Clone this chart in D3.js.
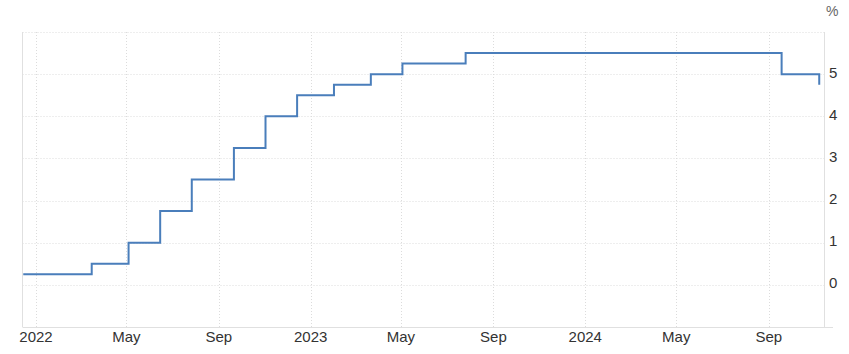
<!DOCTYPE html>
<html><head><meta charset="utf-8">
<script src="https://cdn.jsdelivr.net/npm/d3@7"></script>
<style>body{margin:0;background:#fff}svg{display:block;font-family:"Liberation Sans",Arial,sans-serif}</style>
</head><body><svg id="c" width="849" height="354"></svg>
<script>
const dates = ["2021-12-15","2022-03-16","2022-05-04","2022-06-15","2022-07-27","2022-09-21","2022-11-02","2022-12-14","2023-02-01","2023-03-22","2023-05-03","2023-07-26","2024-09-18","2024-11-07"];
const rates = [0.25,0.5,1.0,1.75,2.5,3.25,4.0,4.5,4.75,5.0,5.25,5.5,5.0,4.75];
const xTickDates = ["2022-01-01","2022-05-01","2022-09-01","2023-01-01","2023-05-01","2023-09-01","2024-01-01","2024-05-01","2024-09-01"];
const xTickLabels = ["2022","May","Sep","2023","May","Sep","2024","May","Sep"];
const yTicks = [0,1,2,3,4,5];
const yGrid = [0,1,2,3,4,5,6];

const parse = d3.utcParse("%Y-%m-%d");
const data = dates.map((d,i)=>({date:parse(d), v:rates[i]}));
const svg = d3.select("#c");
const L=22.5, R=824.5, T=32, B=327;
const x = d3.scaleUtc().domain([parse("2021-12-14"), parse("2024-11-14")]).range([L,R]);
const y = d3.scaleLinear().domain([-1,6]).range([B,T]);

// grid
svg.append("g").selectAll("line").data(yGrid).join("line")
  .attr("x1",L).attr("x2",R).attr("y1",d=>Math.round(y(d))+0.5).attr("y2",d=>Math.round(y(d))+0.5)
  .attr("stroke","#dcdcdc").attr("stroke-dasharray","1,2");
svg.append("g").selectAll("line").data(xTickDates).join("line")
  .attr("x1",d=>Math.round(x(parse(d)))+0.5).attr("x2",d=>Math.round(x(parse(d)))+0.5)
  .attr("y1",T).attr("y2",B)
  .attr("stroke","#dcdcdc").attr("stroke-dasharray","1,2");
// frame lines
svg.append("line").attr("x1",L).attr("x2",L).attr("y1",T).attr("y2",B).attr("stroke","#e0e0e0");
svg.append("line").attr("x1",R).attr("x2",R).attr("y1",T).attr("y2",B).attr("stroke","#e0e0e0");
svg.append("line").attr("x1",L).attr("x2",833).attr("y1",B+0.5).attr("y2",B+0.5).attr("stroke","#e0e0e0");

// labels
svg.append("g").selectAll("text").data(xTickDates).join("text")
  .attr("x",d=>x(parse(d))).attr("y",342).attr("text-anchor","middle")
  .attr("font-size",15).attr("fill","#333").text((d,i)=>xTickLabels[i]);
svg.append("g").selectAll("text").data(yTicks).join("text")
  .attr("x",829).attr("y",d=>y(d)+3.5).attr("font-size",15).attr("fill","#333").text(d=>d);
svg.append("text").attr("x",826).attr("y",16).attr("font-size",14).attr("fill","#666").text("%");

// line
const line = d3.line().x(d=>x(d.date)).y(d=>y(d.v)).curve(d3.curveStepAfter);
svg.append("path").datum(data).attr("d",line).attr("fill","none")
  .attr("stroke","#4a7ebb").attr("stroke-width",2);
</script></body></html>
